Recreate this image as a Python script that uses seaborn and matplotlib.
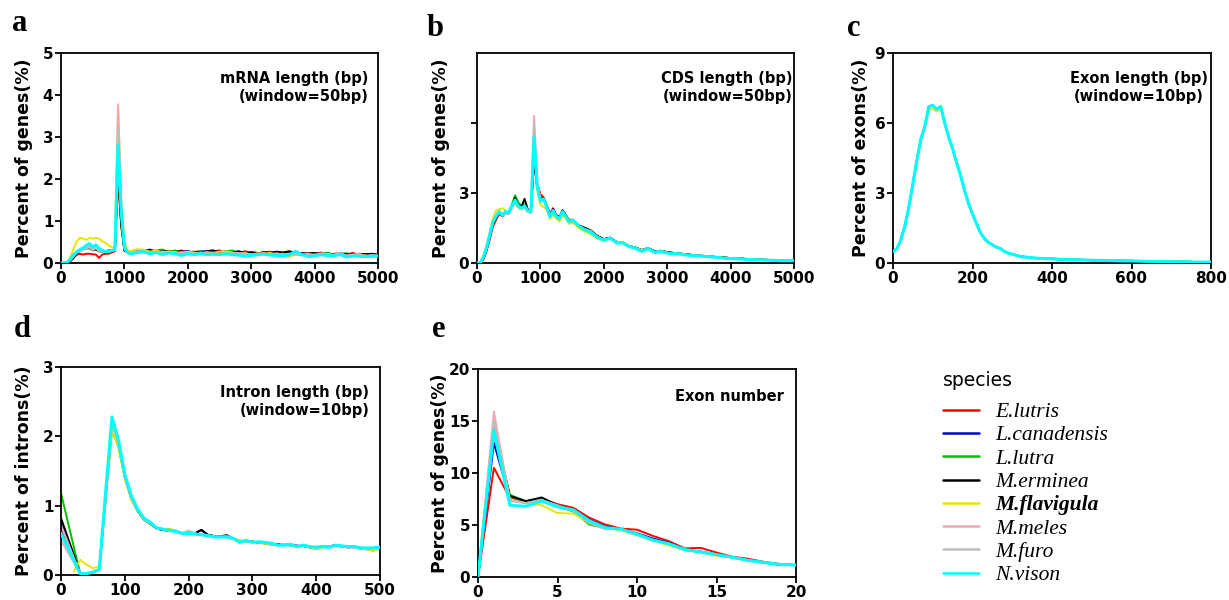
import matplotlib
matplotlib.use("Agg")
import matplotlib.pyplot as plt
import matplotlib.colors as mcolors
import numpy as np
import pandas as pd
import seaborn as sns

# ---------------- data ----------------
species = ["E.lutris", "L.canadensis", "L.lutra", "M.erminea",
           "M.flavigula", "M.meles", "M.furo", "N.vison"]
colors = ["#ff0000", "#0000cc", "#00c000", "#000000",
          "#e6e600", "#f2a7b5", "#bdbdbd", "#00ffff"]

# (a) mRNA length, window 50bp
mrna_x = list(range(0, 1201, 50)) + list(range(1300, 5001, 100))
mrna_head = {
    "E.lutris":     [0, 0, 0.01, 0.06, 0.14, 0.2, 0.22, 0.2, 0.22, 0.22, 0.21, 0.2, 0.12, 0.2, 0.22, 0.22, 0.25, 0.28, 2.0, 0.9, 0.33, 0.26, 0.25, 0.27, 0.24],
    "L.canadensis": [0, 0, 0.01, 0.08, 0.17, 0.25, 0.3, 0.33, 0.36, 0.38, 0.33, 0.36, 0.3, 0.28, 0.28, 0.3, 0.3, 0.32, 2.6, 1.0, 0.3, 0.28, 0.27, 0.3, 0.3],
    "L.lutra":      [0, 0, 0.01, 0.07, 0.16, 0.24, 0.29, 0.32, 0.34, 0.36, 0.32, 0.34, 0.28, 0.27, 0.27, 0.28, 0.3, 0.31, 2.4, 0.95, 0.3, 0.27, 0.28, 0.27, 0.3],
    "M.erminea":    [0, 0, 0.01, 0.05, 0.12, 0.22, 0.3, 0.34, 0.36, 0.35, 0.3, 0.32, 0.28, 0.27, 0.26, 0.27, 0.28, 0.3, 2.2, 0.9, 0.3, 0.25, 0.24, 0.26, 0.28],
    "M.flavigula":  [0, 0, 0.02, 0.15, 0.35, 0.52, 0.6, 0.58, 0.55, 0.6, 0.58, 0.6, 0.58, 0.52, 0.48, 0.42, 0.38, 0.35, 3.75, 1.5, 0.5, 0.3, 0.28, 0.3, 0.33],
    "M.meles":      [0, 0, 0.01, 0.08, 0.18, 0.26, 0.3, 0.33, 0.37, 0.4, 0.34, 0.38, 0.3, 0.28, 0.26, 0.27, 0.29, 0.32, 3.78, 1.5, 0.35, 0.26, 0.25, 0.27, 0.28],
    "M.furo":       [0, 0, 0.01, 0.07, 0.16, 0.24, 0.28, 0.32, 0.35, 0.37, 0.3, 0.35, 0.28, 0.26, 0.26, 0.27, 0.28, 0.3, 3.2, 1.3, 0.32, 0.25, 0.24, 0.26, 0.27],
    "N.vison":      [0, 0, 0.02, 0.1, 0.2, 0.27, 0.32, 0.36, 0.42, 0.46, 0.38, 0.43, 0.35, 0.3, 0.27, 0.28, 0.3, 0.32, 2.82, 1.2, 0.38, 0.25, 0.22, 0.24, 0.25],
}
mrna_tail = {
    "E.lutris":     [0.3, 0.28, 0.26, 0.3, 0.27, 0.25, 0.3, 0.24, 0.26, 0.28, 0.25, 0.27, 0.3, 0.24, 0.26, 0.22, 0.28, 0.24, 0.22, 0.25, 0.27, 0.22, 0.24, 0.26, 0.21, 0.23, 0.2, 0.22, 0.25, 0.2, 0.22, 0.23, 0.19, 0.24, 0.2, 0.18, 0.21, 0.19],
    "L.canadensis": [0.28, 0.32, 0.27, 0.3, 0.25, 0.28, 0.26, 0.29, 0.24, 0.27, 0.28, 0.25, 0.27, 0.26, 0.24, 0.27, 0.22, 0.26, 0.24, 0.23, 0.25, 0.24, 0.22, 0.25, 0.23, 0.24, 0.21, 0.22, 0.2, 0.23, 0.21, 0.2, 0.22, 0.19, 0.21, 0.2, 0.18, 0.19],
    "L.lutra":      [0.3, 0.27, 0.3, 0.32, 0.26, 0.3, 0.24, 0.27, 0.25, 0.28, 0.24, 0.26, 0.25, 0.28, 0.3, 0.24, 0.25, 0.22, 0.24, 0.22, 0.26, 0.23, 0.25, 0.22, 0.24, 0.2, 0.23, 0.21, 0.22, 0.24, 0.2, 0.21, 0.23, 0.2, 0.19, 0.21, 0.2, 0.18],
    "M.erminea":    [0.29, 0.3, 0.28, 0.27, 0.29, 0.26, 0.28, 0.25, 0.27, 0.25, 0.28, 0.3, 0.26, 0.27, 0.25, 0.28, 0.24, 0.25, 0.23, 0.26, 0.24, 0.27, 0.25, 0.28, 0.24, 0.22, 0.23, 0.24, 0.21, 0.22, 0.2, 0.23, 0.21, 0.2, 0.22, 0.21, 0.22, 0.2],
    "M.flavigula":  [0.32, 0.27, 0.3, 0.25, 0.28, 0.26, 0.24, 0.27, 0.25, 0.23, 0.26, 0.24, 0.27, 0.28, 0.25, 0.22, 0.24, 0.2, 0.23, 0.21, 0.24, 0.2, 0.22, 0.15, 0.2, 0.18, 0.17, 0.2, 0.19, 0.22, 0.18, 0.2, 0.17, 0.19, 0.16, 0.18, 0.15, 0.17],
    "M.meles":      [0.28, 0.26, 0.24, 0.27, 0.25, 0.22, 0.26, 0.24, 0.22, 0.25, 0.23, 0.24, 0.22, 0.25, 0.23, 0.24, 0.21, 0.2, 0.22, 0.24, 0.21, 0.23, 0.2, 0.22, 0.23, 0.2, 0.22, 0.19, 0.23, 0.21, 0.2, 0.24, 0.18, 0.2, 0.22, 0.17, 0.19, 0.18],
    "M.furo":       [0.26, 0.24, 0.27, 0.23, 0.25, 0.24, 0.22, 0.25, 0.23, 0.24, 0.22, 0.23, 0.21, 0.24, 0.22, 0.21, 0.23, 0.2, 0.21, 0.22, 0.2, 0.21, 0.19, 0.21, 0.2, 0.19, 0.18, 0.2, 0.19, 0.17, 0.19, 0.18, 0.17, 0.18, 0.16, 0.17, 0.16, 0.16],
    "N.vison":      [0.27, 0.22, 0.25, 0.2, 0.24, 0.22, 0.18, 0.22, 0.2, 0.22, 0.2, 0.21, 0.2, 0.22, 0.2, 0.19, 0.16, 0.18, 0.2, 0.21, 0.19, 0.18, 0.17, 0.19, 0.28, 0.2, 0.15, 0.17, 0.2, 0.18, 0.17, 0.21, 0.14, 0.17, 0.16, 0.15, 0.16, 0.17],
}

# (b) CDS length, window 50bp
cds_x = list(range(0, 1601, 50)) + list(range(1700, 5001, 100))
cds_head = {
    "E.lutris":     [0, 0, 0.15, 0.5, 1.0, 1.55, 1.85, 2.1, 2.0, 2.15, 2.1, 2.4, 2.75, 2.5, 2.4, 2.45, 2.3, 2.2, 4.9, 3.4, 2.95, 2.8, 2.45, 2.1, 2.35, 2.05, 1.95, 2.25, 2.05, 1.85, 1.85, 1.75, 1.6],
    "L.canadensis": [0, 0, 0.2, 0.6, 1.1, 1.65, 1.95, 2.15, 2.05, 2.2, 2.15, 2.45, 2.8, 2.5, 2.4, 2.5, 2.25, 2.2, 5.0, 3.3, 2.75, 2.75, 2.45, 2.05, 2.3, 2.05, 1.95, 2.25, 2.05, 1.8, 1.85, 1.75, 1.62],
    "L.lutra":      [0, 0, 0.2, 0.6, 1.15, 1.7, 1.95, 2.2, 2.05, 2.2, 2.15, 2.5, 2.9, 2.6, 2.45, 2.5, 2.3, 2.2, 4.7, 3.2, 2.7, 2.7, 2.4, 2.0, 2.25, 2.0, 1.9, 2.2, 2.0, 1.8, 1.82, 1.72, 1.58],
    "M.erminea":    [0, 0, 0.2, 0.6, 1.15, 1.7, 1.95, 2.2, 2.05, 2.2, 2.15, 2.45, 2.8, 2.5, 2.4, 2.75, 2.3, 2.2, 4.4, 3.2, 2.75, 2.8, 2.45, 2.05, 2.3, 2.05, 1.95, 2.25, 2.05, 1.8, 1.85, 1.75, 1.62],
    "M.flavigula":  [0, 0, 0.3, 0.75, 1.3, 1.9, 2.25, 2.3, 2.35, 2.25, 2.1, 2.35, 2.6, 2.35, 2.3, 2.35, 2.2, 2.15, 5.3, 3.1, 2.5, 2.4, 2.3, 1.88, 2.1, 1.9, 1.78, 2.05, 1.9, 1.68, 1.72, 1.65, 1.5],
    "M.meles":      [0, 0, 0.25, 0.65, 1.2, 1.75, 2.0, 2.2, 2.05, 2.2, 2.1, 2.4, 2.6, 2.4, 2.3, 2.4, 2.2, 2.15, 6.3, 3.5, 2.7, 2.7, 2.35, 1.95, 2.2, 1.95, 1.88, 2.15, 1.98, 1.75, 1.82, 1.73, 1.6],
    "M.furo":       [0, 0, 0.25, 0.65, 1.2, 1.75, 2.0, 2.2, 2.05, 2.2, 2.1, 2.4, 2.6, 2.4, 2.3, 2.4, 2.2, 2.15, 6.0, 3.4, 2.7, 2.7, 2.35, 1.95, 2.2, 1.95, 1.88, 2.15, 1.98, 1.75, 1.82, 1.73, 1.6],
    "N.vison":      [0, 0, 0.25, 0.65, 1.2, 1.75, 2.0, 2.2, 2.05, 2.2, 2.15, 2.45, 2.7, 2.45, 2.35, 2.45, 2.25, 2.2, 5.4, 3.3, 2.65, 2.75, 2.4, 1.98, 2.25, 2.0, 1.9, 2.2, 2.0, 1.77, 1.84, 1.75, 1.6],
}
cds_tail_vison = [1.42, 1.3, 1.1, 0.98, 1.06, 0.86, 0.86, 0.7, 0.63, 0.5, 0.62, 0.45, 0.5, 0.42, 0.4, 0.38, 0.34, 0.32, 0.3, 0.28, 0.26, 0.24, 0.2, 0.19, 0.18, 0.16, 0.15, 0.14, 0.13, 0.12, 0.11, 0.1, 0.1, 0.1]
cds_tail_mustelinae = [1.5, 1.38, 1.15, 1.02, 1.08, 0.9, 0.88, 0.72, 0.66, 0.55, 0.64, 0.5, 0.52, 0.46, 0.43, 0.4, 0.37, 0.34, 0.31, 0.3, 0.27, 0.25, 0.23, 0.21, 0.2, 0.18, 0.16, 0.15, 0.14, 0.13, 0.12, 0.11, 0.1, 0.1]
cds_tail_flavigula = [1.35, 1.22, 1.05, 0.95, 1.05, 0.88, 0.9, 0.73, 0.65, 0.55, 0.63, 0.48, 0.52, 0.44, 0.42, 0.4, 0.36, 0.33, 0.31, 0.29, 0.27, 0.25, 0.22, 0.21, 0.2, 0.18, 0.16, 0.15, 0.14, 0.13, 0.12, 0.12, 0.11, 0.1]
cds_tail_meles = [1.45, 1.36, 1.12, 1.0, 1.05, 0.88, 0.86, 0.7, 0.64, 0.52, 0.63, 0.47, 0.5, 0.43, 0.41, 0.39, 0.35, 0.33, 0.3, 0.28, 0.26, 0.24, 0.21, 0.2, 0.18, 0.17, 0.15, 0.14, 0.13, 0.12, 0.11, 0.1, 0.1, 0.1]
cds_tail = {
    "E.lutris": cds_tail_mustelinae, "L.canadensis": cds_tail_mustelinae,
    "L.lutra": cds_tail_mustelinae, "M.erminea": cds_tail_mustelinae,
    "M.flavigula": cds_tail_flavigula, "M.meles": cds_tail_meles,
    "M.furo": cds_tail_meles, "N.vison": cds_tail_vison,
}

# (c) exon length, window 10bp
exon_x = list(range(0, 401, 10)) + list(range(420, 801, 20))
exon_len_common = [0.48, 0.62, 1.0, 1.6, 2.4, 3.4, 4.4, 5.3, 5.85, 6.7,
                   6.75, 6.6, 6.7, 6.0, 5.4, 4.9, 4.3, 3.75, 3.1, 2.55,
                   2.1, 1.7, 1.3, 1.05, 0.88, 0.78, 0.68, 0.62, 0.5, 0.42,
                   0.38, 0.33, 0.28, 0.26, 0.24, 0.22, 0.21, 0.2, 0.19, 0.19, 0.18,
                   0.16, 0.15, 0.14, 0.13, 0.12, 0.11, 0.11, 0.1, 0.09, 0.09,
                   0.08, 0.07, 0.07, 0.06, 0.06, 0.05, 0.05, 0.04, 0.04, 0.04]
exon_len_flavigula = [0.45, 0.6, 0.98, 1.58, 2.4, 3.4, 4.4, 5.3, 5.8, 6.6,
                      6.6, 6.5, 6.65, 6.0, 5.45, 4.95, 4.35, 3.8, 3.15, 2.6,
                      2.12, 1.72, 1.32, 1.07, 0.9, 0.8, 0.7, 0.63, 0.5, 0.43,
                      0.38, 0.33, 0.29, 0.27, 0.25, 0.23, 0.21, 0.2, 0.2, 0.19, 0.18,
                      0.17, 0.15, 0.14, 0.13, 0.12, 0.11, 0.11, 0.1, 0.09, 0.09,
                      0.08, 0.08, 0.07, 0.06, 0.06, 0.05, 0.05, 0.05, 0.04, 0.04]
exon_len = {s: (exon_len_flavigula if s == "M.flavigula" else exon_len_common) for s in species}

# (d) intron length, window 10bp
intron_x = list(range(0, 501, 10))
nan = np.nan
intron_head = {  # x = 0..60
    "E.lutris":     [0.65, nan, nan, 0.02, 0.02, 0.04, 0.08],
    "L.canadensis": [0.78, nan, nan, 0.02, 0.02, 0.04, 0.08],
    "L.lutra":      [1.18, nan, nan, 0.02, 0.02, 0.04, 0.08],
    "M.erminea":    [0.82, nan, nan, 0.03, 0.02, 0.04, 0.08],
    "M.flavigula":  [nan, nan, 0.05, 0.22, 0.15, 0.1, 0.12],
    "M.meles":      [0.5, nan, nan, 0.02, 0.02, 0.04, 0.08],
    "M.furo":       [0.72, nan, nan, 0.02, 0.02, 0.04, 0.08],
    "N.vison":      [0.6, nan, nan, 0.02, 0.02, 0.04, 0.08],
}
intron_body_vison = [1.2, 2.28, 1.95, 1.45, 1.15, 0.95, 0.82, 0.76, 0.68, 0.66, 0.64, 0.63, 0.6, 0.6, 0.59, 0.58, 0.57, 0.55, 0.55, 0.55, 0.53, 0.47, 0.5, 0.47, 0.48, 0.47, 0.46, 0.43, 0.43, 0.44, 0.41, 0.43, 0.41, 0.4, 0.41, 0.4, 0.43, 0.42, 0.41, 0.41, 0.39, 0.39, 0.39, 0.4]
intron_body_a = [1.15, 2.2, 1.9, 1.42, 1.12, 0.93, 0.8, 0.74, 0.67, 0.65, 0.64, 0.63, 0.6, 0.61, 0.6, 0.65, 0.58, 0.56, 0.56, 0.57, 0.52, 0.49, 0.49, 0.48, 0.47, 0.46, 0.45, 0.44, 0.43, 0.44, 0.42, 0.42, 0.4, 0.39, 0.41, 0.41, 0.43, 0.41, 0.4, 0.41, 0.39, 0.38, 0.39, 0.4]
intron_body_b = [1.1, 2.1, 1.85, 1.4, 1.1, 0.93, 0.8, 0.74, 0.68, 0.66, 0.66, 0.64, 0.6, 0.6, 0.59, 0.58, 0.57, 0.56, 0.55, 0.56, 0.52, 0.5, 0.48, 0.48, 0.47, 0.45, 0.44, 0.43, 0.44, 0.45, 0.41, 0.42, 0.4, 0.37, 0.4, 0.41, 0.43, 0.42, 0.41, 0.4, 0.38, 0.37, 0.35, 0.39]
intron_body_c = [1.15, 2.2, 1.9, 1.42, 1.12, 0.94, 0.8, 0.75, 0.67, 0.66, 0.65, 0.62, 0.6, 0.64, 0.6, 0.58, 0.56, 0.55, 0.55, 0.54, 0.52, 0.47, 0.49, 0.48, 0.47, 0.46, 0.44, 0.43, 0.44, 0.42, 0.41, 0.42, 0.4, 0.4, 0.42, 0.41, 0.42, 0.41, 0.4, 0.39, 0.38, 0.38, 0.39, 0.39]
intron_body = {
    "E.lutris": intron_body_a, "L.canadensis": intron_body_a,
    "L.lutra": intron_body_b, "M.erminea": intron_body_a,
    "M.flavigula": intron_body_b, "M.meles": intron_body_c,
    "M.furo": intron_body_c, "N.vison": intron_body_vison,
}

# (e) exon number
exnum_x = list(range(0, 21))
exon_number = {
    "E.lutris":     [0, 10.5, 7.6, 7.2, 7.5, 7.0, 6.65, 5.7, 5.05, 4.65, 4.55, 3.95, 3.45, 2.75, 2.8, 2.35, 1.95, 1.75, 1.45, 1.25, 1.15],
    "L.canadensis": [0, 12.9, 7.5, 7.2, 7.5, 6.8, 6.4, 5.5, 4.85, 4.6, 4.2, 3.7, 3.3, 2.65, 2.45, 2.15, 1.9, 1.6, 1.4, 1.2, 1.15],
    "L.lutra":      [0, 14.5, 7.9, 7.3, 7.5, 6.8, 6.3, 5.05, 4.7, 4.55, 4.1, 3.55, 3.2, 2.6, 2.4, 2.1, 1.9, 1.6, 1.4, 1.2, 1.15],
    "M.erminea":    [0, 14.3, 7.8, 7.3, 7.65, 6.9, 6.4, 5.3, 4.8, 4.6, 4.15, 3.6, 3.2, 2.65, 2.4, 2.1, 1.9, 1.6, 1.4, 1.15, 1.15],
    "M.flavigula":  [0, 15.2, 7.5, 7.1, 6.9, 6.15, 6.1, 5.2, 4.75, 4.5, 4.0, 3.5, 3.05, 2.6, 2.35, 2.05, 1.85, 1.55, 1.35, 1.2, 1.15],
    "M.meles":      [0, 15.9, 7.3, 7.1, 7.4, 6.9, 6.35, 5.2, 4.6, 4.6, 4.15, 3.55, 3.2, 2.6, 2.4, 2.1, 1.9, 1.6, 1.4, 1.2, 1.15],
    "M.furo":       [0, 15.0, 7.4, 7.1, 7.4, 6.85, 6.35, 5.25, 4.7, 4.6, 4.1, 3.55, 3.2, 2.6, 2.4, 2.1, 1.9, 1.6, 1.4, 1.2, 1.15],
    "N.vison":      [0, 14.1, 6.9, 6.8, 7.3, 6.75, 6.45, 5.4, 4.75, 4.6, 4.1, 3.55, 3.2, 2.65, 2.4, 2.15, 1.9, 1.6, 1.4, 1.2, 1.15],
}


# ---------------- helpers ----------------
def long_df(x, *parts):
    rows = []
    for s in species:
        vals = []
        for p in parts:
            vals += list(p[s])
        if len(vals) != len(x):
            raise ValueError(f"length mismatch for {s}: {len(vals)} vs {len(x)}")
        for xi, v in zip(x, vals):
            rows.append((s, xi, v))
    df = pd.DataFrame(rows, columns=["species", "x", "pct"])
    return df.dropna()


sns.set_style("white")
plt.rcParams["font.family"] = ["DejaVu Sans"]
plt.rcParams.update({"text.color": "black", "axes.labelcolor": "black",
                     "xtick.color": "black", "ytick.color": "black",
                     "axes.edgecolor": "black"})

W, H = 1229, 600
fig = plt.figure(figsize=(W / 100, H / 100), dpi=100)


def add_ax(l, t, r, b):
    return fig.add_axes([l / W, 1 - b / H, (r - l) / W, (b - t) / H])


ax_a = add_ax(61, 53, 378, 263)
ax_b = add_ax(477, 53, 794, 263)
ax_c = add_ax(893, 53, 1211, 263)
ax_d = add_ax(61, 367, 380, 575)
ax_e = add_ax(478, 369, 796, 577)

panels = [
    (ax_a, long_df(mrna_x, mrna_head, mrna_tail)),
    (ax_b, long_df(cds_x, cds_head, cds_tail)),
    (ax_c, long_df(exon_x, exon_len)),
    (ax_d, long_df(intron_x, intron_head, intron_body)),
    (ax_e, long_df(exnum_x, exon_number)),
]
for ax, df in panels:
    sns.lineplot(data=df, x="x", y="pct", hue="species", hue_order=species,
                 palette=colors, ax=ax, estimator=None, linewidth=1.4,
                 legend=(ax is ax_e))
    for ln in ax.lines:
        if mcolors.to_hex(ln.get_color()) == "#00ffff":
            ln.set_linewidth(2.2)
            ln.set_zorder(5)


def style(ax, xlim, xticks, ylim, yticks, ylabels, ylabel, lab_x, note, nx, ny, ma="right"):
    ax.set_xlim(*xlim)
    ax.set_ylim(*ylim)
    ax.set_xticks(xticks)
    ax.set_xticklabels([str(t) for t in xticks])
    ax.set_yticks(yticks)
    ax.set_yticklabels(ylabels)
    for sp in ax.spines.values():
        sp.set_visible(True)
        sp.set_color("black")
        sp.set_linewidth(1.3)
    ax.tick_params(direction="out", length=4, width=1.3, labelsize=11, pad=1.5,
                   left=True, bottom=True, colors="black")
    for t in ax.get_xticklabels() + ax.get_yticklabels():
        t.set_fontweight("bold")
    ax.set_xlabel("")
    ax.set_ylabel(ylabel, fontsize=12.5, fontweight="bold", color="black")
    ax.yaxis.set_label_coords(lab_x, 0.5)
    ax.text(nx, ny, note, transform=ax.transAxes, ha="right", va="top",
            fontsize=10.5, fontweight="bold", multialignment=ma, linespacing=1.3,
            color="black")


style(ax_a, (0, 5000), [0, 1000, 2000, 3000, 4000, 5000], (0, 5), [0, 1, 2, 3, 4, 5],
      ["0", "1", "2", "3", "4", "5"], "Percent of genes(%)", -0.088,
      "mRNA length (bp)\n(window=50bp)", 0.97, 0.915)
style(ax_b, (0, 5000), [0, 1000, 2000, 3000, 4000, 5000], (0, 9), [0, 3, 6],
      ["0", "3", ""], "Percent of genes(%)", -0.085,
      "CDS length (bp)\n(window=50bp)", 0.995, 0.915)
style(ax_c, (0, 800), [0, 200, 400, 600, 800], (0, 9), [0, 3, 6, 9],
      ["0", "3", "6", "9"], "Percent of exons(%)", -0.072,
      "Exon length (bp)\n(window=10bp)", 0.99, 0.915, ma="center")
style(ax_d, (0, 500), [0, 100, 200, 300, 400, 500], (0, 3), [0, 1, 2, 3],
      ["0", "1", "2", "3"], "Percent of introns(%)", -0.088,
      "Intron length (bp)\n(window=10bp)", 0.967, 0.915)
style(ax_e, (0, 20), [0, 5, 10, 15, 20], (0, 20), [0, 5, 10, 15, 20],
      ["0", "5", "10", "15", "20"], "Percent of genes(%)", -0.092,
      "Exon number", 0.962, 0.905)

# panel letters
for letter, px, py in [("a", 12, 31), ("b", 427, 36), ("c", 847, 36), ("d", 14, 337), ("e", 432, 337)]:
    fig.text(px / W, 1 - py / H, letter, fontsize=22, fontweight="bold",
             family="Liberation Serif", ha="left", va="baseline", color="black")

# legend
sns.move_legend(ax_e, loc="upper left", bbox_to_anchor=(934 / W, 1 - 362 / H),
                bbox_transform=fig.transFigure, frameon=False, title="species",
                fontsize=15.5, title_fontsize=13.5, handlelength=1.67,
                handletextpad=0.79, labelspacing=0.15, borderaxespad=0)
leg = ax_e.get_legend()
leg.set_alignment("left")
leg._legend_box.sep = 9
leg.get_title().set_color("black")
for t in leg.get_texts():
    t.set_fontfamily("Liberation Serif")
    t.set_fontstyle("italic")
    t.set_color("black")
    if t.get_text() == "M.flavigula":
        t.set_fontweight("bold")
for ln in leg.get_lines():
    ln.set_linewidth(1.8)

fig.savefig("out.png", dpi=100)
